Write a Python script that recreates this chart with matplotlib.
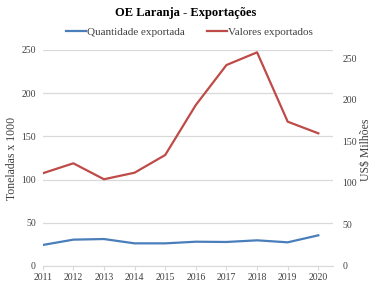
import numpy as np
import matplotlib
matplotlib.use('Agg')
import matplotlib.pyplot as plt

# Data
anos = [2011, 2012, 2013, 2014, 2015, 2016, 2017, 2018, 2019, 2020]
quantidade = [24.3, 30.5, 31.2, 26.2, 26.2, 28.1, 27.8, 29.7, 27.4, 35.5]   # toneladas x 1000
valores = [111.6, 123.6, 104.4, 112.3, 133.6, 193.8, 241.9, 257.2, 173.7, 159.7]  # US$ milhoes

azul = '#4A7EBB'
vermelho = '#BE4B48'
cinza = '#D9D9D9'
texto = '#404040'

plt.rcParams['font.family'] = ['Liberation Serif', 'DejaVu Serif']

fig = plt.figure(figsize=(3.72, 2.87), dpi=100)
ax = fig.add_axes([0.1148, 0.0732, 0.7796, 0.7526])
ax2 = ax.twinx()

l1, = ax.plot(anos, quantidade, color=azul, lw=1.6, label='Quantidade exportada')
l2, = ax2.plot(anos, valores, color=vermelho, lw=1.6, label='Valores exportados')

ax.set_xlim(2011, 2020.47)
ax.set_ylim(0, 250)
ax.set_yticks(np.arange(0, 251, 50))
ax2.set_ylim(0, 260)
ax2.set_yticks(np.arange(0, 251, 50))
ax.set_xticks(anos)

ax.grid(axis='y', color=cinza, lw=0.9)
ax.set_axisbelow(True)
for a in (ax, ax2):
    for s in a.spines.values():
        s.set_visible(False)
ax.spines['bottom'].set_visible(True)
ax.spines['bottom'].set_color(cinza)

ax.tick_params(axis='y', length=0, pad=5, labelsize=7, labelcolor=texto)
ax2.tick_params(axis='y', length=0, pad=7, labelsize=7, labelcolor=texto)
ax.tick_params(axis='x', length=3, color=cinza, pad=2, labelsize=7, labelcolor=texto)

ax.set_ylabel('Toneladas x 1000', fontsize=8.5, color=texto)
ax.yaxis.set_label_coords(-0.085, 0.5)
ax2.set_ylabel('US$ Milhões', fontsize=8.5, color=texto)
ax2.yaxis.set_label_coords(1.093, 0.537)

fig.suptitle('OE Laranja - Exportações', fontsize=9, fontweight='bold', y=0.975)
fig.legend(handles=[l1, l2], loc='upper center', bbox_to_anchor=(0.51, 0.94), ncol=2,
           frameon=False, fontsize=8, handlelength=1.8, handletextpad=0.1,
           columnspacing=2.0, labelcolor=texto)

fig.savefig('out.png', dpi=100)
